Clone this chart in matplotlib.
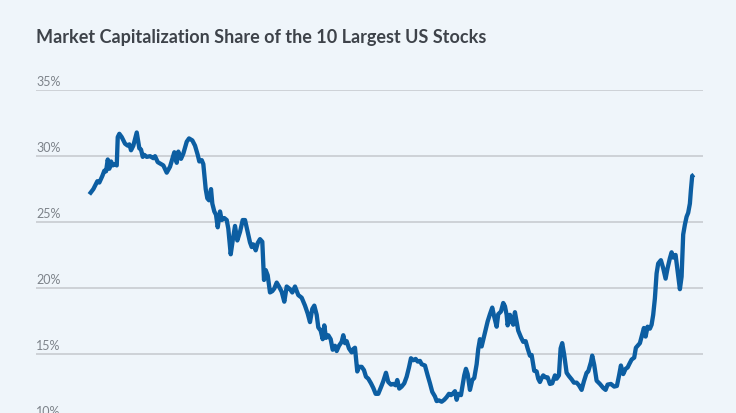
import matplotlib.pyplot as plt

# time index (no axis labels shown) and share in %
t = [0.3, 4.3, 8.3, 10.3, 13.3, 15.3, 17, 18.7, 20.3, 22, 23.7, 26, 27.7, 28.7, 30.3, 32.7,
     36, 38.7, 40.3, 42, 44.3, 47.7, 50.3, 52, 53.7, 55.3, 57.7, 61, 64.3, 66, 68.7, 72,
     74.3, 77.7, 81, 85.3, 87.7, 89.3, 92, 94.3, 97.7, 100, 103.3, 106, 108.7, 110.3,
     112.7, 114.3, 116.7, 118.3, 120, 122, 123.3, 125.3, 127, 128.7, 131, 132.7, 135.3,
     137.7, 139.3, 141.7, 143.7, 146, 148.3, 151, 153.7, 156, 158.7, 161, 162.7, 164.3,
     166.7, 168.7, 171, 173.3, 175, 176.7, 178.7, 181, 183.3, 185.3, 187.7, 190, 192.7,
     195.3, 197.7, 201, 203.3, 206, 209.3, 212.7, 216, 218.7, 221, 223.3, 225.3, 227.7,
     229.3, 231.7, 233.7, 235.3, 237, 239.3, 241.7, 243.7, 246, 247.7, 250, 252.7, 254.3,
     256, 257.7, 260, 262.7, 264.3, 266, 268.3, 270, 272.7, 275, 277, 279.3, 282, 284.3,
     286.7, 289.3, 292, 294.3, 297, 299.3, 302, 304.3, 306.7, 308.3, 310.3, 312.7, 315.3,
     317.7, 320, 322, 324.3, 326.7, 328.7, 331, 332.7, 336, 338.7, 341, 343.3, 346, 347.7,
     350, 352.7, 355.3, 357.7, 360, 362, 364.3, 366, 367.7, 369.3, 372, 373.7, 375.3, 377,
     378.7, 381, 383.3, 385.3, 387.7, 389.3, 391, 392.7, 394.3, 396.7, 398.7, 401, 403.3,
     405.3, 407.7, 409.3, 412, 414.3, 416, 417.7, 418.7, 421, 422.7, 424.3, 426, 427.7,
     429.3, 432, 434.3, 436.7, 438.7, 441, 442.7, 445.3, 447.7, 449.3, 451, 452.7, 454.3,
     456.7, 458.7, 461, 463.3, 466, 467.7, 470, 471.7, 473.3, 475.3, 477.7, 480, 482.7,
     485, 487.7, 490, 492.7, 495, 497.7, 499.3, 502, 503.3, 505.3, 507.7, 511, 514.3,
     516.7, 518.7, 522, 525.3, 528, 530.3, 532, 534.3, 536.7, 538.7, 540.3, 542.7, 545.3,
     547, 549.3, 551, 553.3, 555, 556.7, 558.7, 561, 562.7, 564.3, 566, 567.7, 569.3, 572,
     574.3, 576.7, 578.7, 581, 582.7, 584.3, 586.7, 588.7, 591, 592.7, 594.3, 596, 597.7,
     599.3, 601, 602, 603.3, 605]
share = [27.1, 27.5, 28.1, 28.0, 28.5, 28.9, 28.85, 29.75, 29.05, 29.6, 29.3, 29.4, 29.3,
         31.45, 31.7, 31.45, 30.95, 30.8, 30.9, 30.45, 30.8, 31.8, 30.6, 30.5, 29.95, 30.1,
         29.95, 30.0, 29.85, 30.0, 29.55, 29.4, 29.3, 28.75, 29.2, 30.3, 29.5, 30.35, 29.8,
         30.2, 31.1, 31.35, 31.2, 30.8, 30.1, 29.6, 29.7, 29.4, 27.5, 26.8, 26.65, 27.5,
         26.4, 25.8, 25.55, 24.6, 25.8, 25.15, 25.3, 25.15, 24.5, 22.55, 23.6, 24.7, 23.6,
         24.25, 25.15, 25.15, 24.25, 23.45, 23.1, 23.3, 22.85, 23.4, 23.7, 23.5, 20.6, 21.35,
         20.95, 19.65, 19.75, 19.95, 20.4, 20.1, 19.7, 18.95, 20.1, 19.9, 19.65, 20.1, 19.45,
         19.25, 18.65, 18.05, 17.4, 18.4, 18.65, 17.95, 17.0, 16.75, 16.1, 17.15, 16.2, 16.4,
         16.1, 15.3, 15.6, 15.2, 15.6, 15.9, 16.4, 15.8, 15.95, 15.4, 15.1, 15.35, 15.45,
         13.65, 14.0, 14.0, 13.75, 13.25, 13.1, 12.75, 12.4, 11.95, 11.95, 12.45, 12.9, 13.55,
         12.85, 12.65, 12.7, 12.6, 13.0, 12.35, 12.5, 12.75, 13.25, 13.95, 14.65, 14.5, 14.6,
         14.4, 14.45, 14.2, 14.1, 13.35, 12.75, 12.1, 11.75, 11.4, 11.45, 11.35, 11.5, 11.7,
         11.95, 11.85, 12.0, 12.15, 11.5, 11.95, 11.85, 12.65, 13.35, 13.85, 13.45, 12.25,
         13.0, 13.15, 14.2, 15.35, 16.1, 15.55, 16.05, 16.8, 17.45, 18.0, 18.5, 17.8, 17.05,
         18.0, 18.2, 18.85, 18.6, 17.95, 17.15, 17.95, 17.45, 17.2, 18.15, 17.45, 16.75,
         16.25, 15.9, 15.95, 15.4, 14.85, 14.9, 13.7, 13.65, 13.1, 12.85, 13.15, 13.35, 13.2,
         13.2, 12.7, 12.75, 13.35, 13.1, 13.35, 15.4, 15.8, 14.9, 13.55, 13.3, 13.05, 12.8,
         12.8, 12.6, 12.25, 12.9, 13.55, 13.65, 14.35, 14.85, 14.15, 12.95, 12.7, 12.4,
         12.25, 12.65, 12.7, 12.5, 12.55, 13.4, 14.1, 13.45, 13.85, 13.95, 14.2, 14.55, 14.7,
         15.45, 15.65, 15.8, 16.45, 16.95, 16.3, 17.05, 16.9, 17.2, 17.95, 19.2, 21.1, 21.85,
         22.1, 21.5, 20.7, 21.5, 22.25, 22.7, 22.3, 22.5, 21.3, 19.9, 20.85, 24.05, 24.8,
         25.4, 25.7, 26.4, 27.4, 28.5, 28.6]

yticks = [10, 15, 20, 25, 30, 35]
ylabels = ['10%', '15%', '20%', '25%', '30%', '35%']
title = 'Market Capitalization Share of the 10 Largest US Stocks'

bg = '#eff5fa'
fig = plt.figure(figsize=(7.36, 4.14), dpi=100, facecolor=bg)
ax = fig.add_axes([0.049, -0.0157, 0.906, 0.795], facecolor=bg)

for v, lab in zip(yticks, ylabels):
    ax.axhline(v, color='#c8ccd1', lw=1.2, zorder=1)
    ax.text(0, v + 0.22, lab, transform=ax.get_yaxis_transform(), ha='left', va='bottom',
            fontsize=9, color='#7d838a', family='Lato')

ax.plot(t, share, color='#0c5ea2', lw=3.1, solid_joinstyle='round', solid_capstyle='butt', zorder=3)

ax.set_xlim(-53, 614)
ax.set_ylim(10, 35)
ax.axis('off')

fig.text(36 / 736, 1 - 37 / 414, title, ha='left', va='center', fontsize=13,
         fontweight='bold', color='#3e434a', family='Lato')

fig.savefig('out.png', dpi=100, facecolor=bg)
